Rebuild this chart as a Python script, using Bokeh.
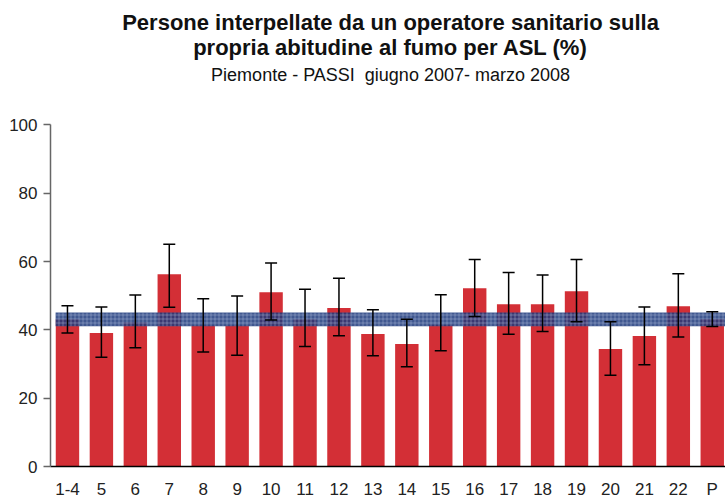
from bokeh.plotting import figure
from bokeh.models import Range1d, Whisker, ColumnDataSource, Label, FixedTicker, TeeHead
from bokeh.embed import file_html
from bokeh.resources import INLINE

categories = ["1-4", "5", "6", "7", "8", "9", "10", "11", "12", "13", "14",
              "15", "16", "17", "18", "19", "20", "21", "22", "P"]
values = [43.1, 39.1, 42.2, 56.3, 41.3, 41.3, 51.0, 43.1, 46.4, 38.8, 35.9,
          41.5, 52.2, 47.5, 47.5, 51.3, 34.4, 38.2, 46.9, 43.2]
upper = [47.1, 46.7, 50.2, 65.1, 49.1, 49.9, 59.6, 51.9, 55.1, 45.9, 43.1,
         50.3, 60.6, 56.8, 56.1, 60.6, 42.4, 46.7, 56.4, 45.3]
lower = [39.1, 32.0, 34.8, 46.6, 33.5, 32.6, 42.9, 35.1, 38.3, 32.4, 29.2,
         33.9, 43.9, 38.7, 39.5, 42.4, 26.7, 29.8, 37.9, 41.0]
region_mean = 43.2
region_low = 41.1
region_high = 45.1
title_lines = ["Persone interpellate da un operatore sanitario sulla",
               "propria abitudine al fumo per ASL (%)"]
subtitle = "Piemonte - PASSI\u00a0 giugno 2007- marzo 2008"

FONT = "Liberation Sans"
xs = [i + 0.5 for i in range(len(categories))]
src = ColumnDataSource(dict(x=xs, top=values, upper=upper, lower=lower))

p = figure(width=725, height=501, output_backend="svg", toolbar_location=None,
           x_range=Range1d(0, 19.89), y_range=Range1d(0, 136.44),
           min_border_left=50, min_border_right=0, min_border_bottom=33, min_border_top=0)
p.title.text = ""
p.outline_line_color = None
p.xgrid.visible = False
p.ygrid.visible = False

p.vbar(x="x", top="top", width=0.69, bottom=0, source=src,
       fill_color="#d32f36", line_color=None)

p.quad(left=[0.15], right=[30], bottom=[region_low], top=[region_high],
       fill_color="#1f3b7d", fill_alpha=0.85, line_color=None,
       hatch_pattern="+", hatch_color="#c8d0e8", hatch_alpha=0.35, hatch_scale=4, hatch_weight=1)

w = Whisker(base="x", upper="upper", lower="lower", source=src, level="overlay",
            line_color="black", line_width=1.5,
            upper_head=TeeHead(size=12, line_color="black", line_width=1.5),
            lower_head=TeeHead(size=12, line_color="black", line_width=1.5))
p.add_layout(w)

p.yaxis.ticker = FixedTicker(ticks=[0, 20, 40, 60, 80, 100])
p.yaxis.bounds = (0, 100)
p.yaxis.minor_tick_line_color = None
p.yaxis.major_tick_out = 7
p.yaxis.major_tick_in = 0
p.yaxis.axis_line_color = "#666666"
p.yaxis.axis_line_width = 1.5
p.yaxis.major_tick_line_color = "#666666"
p.yaxis.major_tick_line_width = 1.5
p.yaxis.major_label_text_font = FONT
p.yaxis.major_label_text_font_size = "17px"
p.yaxis.major_label_text_color = "#222222"
p.yaxis.major_label_standoff = 6

p.xaxis.ticker = FixedTicker(ticks=xs)
p.xaxis.major_label_overrides = {x: c for x, c in zip(xs, categories)}
p.xaxis.minor_tick_line_color = None
p.xaxis.major_tick_line_color = None
p.xaxis.major_tick_out = 0
p.xaxis.major_tick_in = 0
p.xaxis.axis_line_color = "black"
p.xaxis.axis_line_width = 1.5
p.xaxis.major_label_text_font = FONT
p.xaxis.major_label_text_font_size = "17px"
p.xaxis.major_label_text_color = "#222222"
p.xaxis.major_label_standoff = 13

cx = 10.02
p.add_layout(Label(x=cx, y=130.0, text=title_lines[0], text_align="center", text_baseline="middle",
                   text_font=FONT, text_font_size="22px", text_font_style="bold", text_color="#111111"))
p.add_layout(Label(x=cx, y=122.7, text=title_lines[1], text_align="center", text_baseline="middle",
                   text_font=FONT, text_font_size="22px", text_font_style="bold", text_color="#111111"))
p.add_layout(Label(x=cx, y=114.6, text=subtitle, text_align="center", text_baseline="middle",
                   text_font=FONT, text_font_size="18px", text_font_style="normal", text_color="#111111"))

open("out.html", "w").write(file_html(p, INLINE))
